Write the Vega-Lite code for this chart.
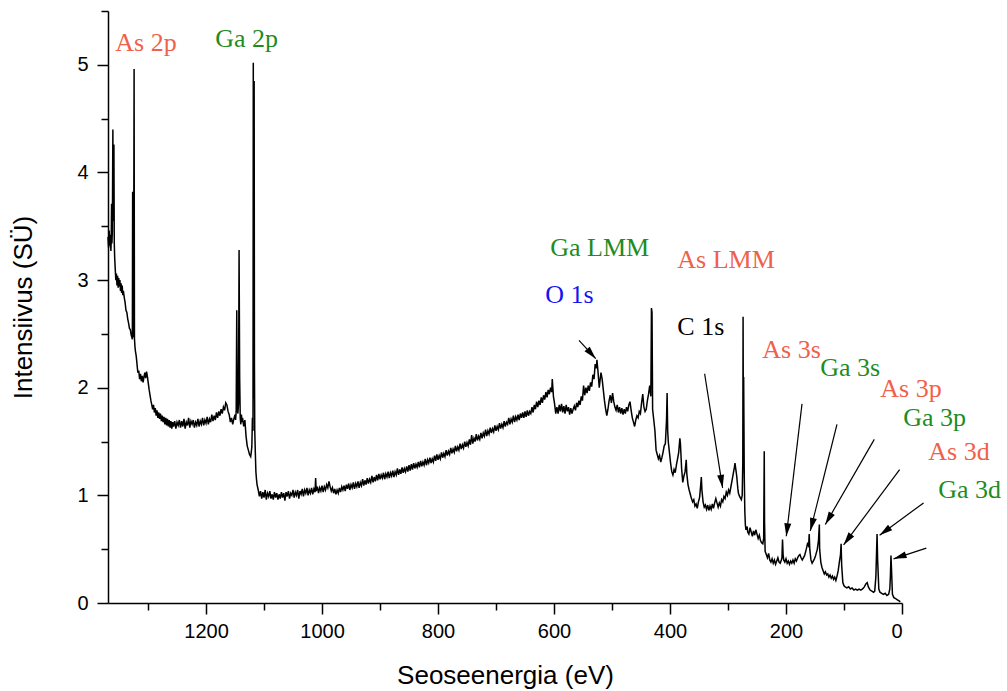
{
  "$schema": "https://vega.github.io/schema/vega-lite/v6.json",
  "width": 794,
  "height": 592,
  "autosize": {"type": "none"},
  "padding": {"left": 108, "top": 11, "right": 105, "bottom": 88},
  "background": "white",
  "config": {
    "view": {"stroke": null},
    "axis": {
      "grid": false,
      "domainColor": "black",
      "domainWidth": 1.5,
      "tickColor": "black",
      "tickWidth": 1.5,
      "labelFont": "Liberation Sans",
      "labelFontSize": 20,
      "labelColor": "black",
      "titleFont": "Liberation Sans",
      "titleFontSize": 26,
      "titleFontWeight": "normal",
      "titleColor": "black"
    }
  },
  "datasets": {
    "spec": [
      {"e":1369,"i":3.40},{"e":1368,"i":3.30},{"e":1367,"i":3.46},{"e":1366,"i":3.32},{"e":1365,"i":3.42},{"e":1364,"i":3.27},{"e":1363.5,"i":3.36},{"e":1362.8,"i":3.71},{"e":1362.3,"i":3.34},{"e":1361.5,"i":3.45},{"e":1360.6,"i":4.40},{"e":1360,"i":3.55},{"e":1359.4,"i":3.60},{"e":1358.8,"i":4.26},{"e":1358.2,"i":3.35},{"e":1357.5,"i":3.21},
      {"e":1356.5,"i":3.10},{"e":1355.5,"i":3.00},{"e":1354.5,"i":3.06},{"e":1353.5,"i":2.95},{"e":1352.5,"i":3.04},{"e":1351.5,"i":2.93},{"e":1350.5,"i":3.02},{"e":1349.5,"i":2.94},{"e":1348.5,"i":3.00},{"e":1347.5,"i":2.90},{"e":1346.5,"i":2.97},{"e":1345.5,"i":2.88},{"e":1344.5,"i":2.95},{"e":1343.5,"i":2.86},{"e":1342.5,"i":2.90},
      {"e":1341,"i":2.84},{"e":1339.5,"i":2.79},{"e":1338,"i":2.72},{"e":1336.5,"i":2.70},{"e":1335,"i":2.64},{"e":1333.5,"i":2.60},{"e":1332,"i":2.55},{"e":1330.5,"i":2.54},{"e":1329,"i":2.49},{"e":1328,"i":2.47},{"e":1327,"i":2.45},{"e":1326.5,"i":3.82},{"e":1326,"i":2.50},{"e":1325,"i":2.47},{"e":1324,"i":4.96},{"e":1323.4,"i":2.46},
      {"e":1322.5,"i":2.38},{"e":1321.5,"i":2.33},{"e":1320.5,"i":2.30},{"e":1319.5,"i":2.25},{"e":1318.5,"i":2.19},{"e":1317.5,"i":2.14},{"e":1316,"i":2.16},{"e":1314.5,"i":2.08},{"e":1313,"i":2.13},{"e":1311.5,"i":2.06},{"e":1310,"i":2.11},{"e":1308.5,"i":2.05},{"e":1307,"i":2.10},{"e":1305.5,"i":2.14},{"e":1304,"i":2.09},{"e":1302.5,"i":2.15},{"e":1301,"i":2.10},{"e":1299.5,"i":2.04},{"e":1298,"i":1.98},
      {"e":1296.5,"i":1.93},{"e":1295,"i":1.88},{"e":1293.5,"i":1.84},{"e":1292,"i":1.80},{"e":1290.5,"i":1.84},{"e":1289,"i":1.77},{"e":1287.5,"i":1.81},{"e":1286,"i":1.74},{"e":1284.5,"i":1.79},{"e":1283,"i":1.72},{"e":1281.5,"i":1.77},{"e":1280,"i":1.71},{"e":1278.5,"i":1.76},{"e":1277,"i":1.69},{"e":1275.5,"i":1.74},{"e":1274,"i":1.68},{"e":1272.5,"i":1.73},{"e":1271,"i":1.66},{"e":1269.5,"i":1.72},{"e":1268,"i":1.65},{"e":1266.5,"i":1.71},{"e":1265,"i":1.64},{"e":1263.5,"i":1.70},{"e":1262,"i":1.63},{"e":1260.5,"i":1.69},{"e":1259,"i":1.62},{"e":1257.5,"i":1.68},{"e":1256,"i":1.64},{"e":1254,"i":1.69},{"e":1252,"i":1.62},{"e":1250,"i":1.68},
      {"e":1248,"i":1.65},{"e":1246,"i":1.70},{"e":1244,"i":1.63},{"e":1242,"i":1.69},{"e":1240,"i":1.64},{"e":1238,"i":1.71},{"e":1236,"i":1.62},{"e":1234,"i":1.68},{"e":1232,"i":1.65},{"e":1230,"i":1.72},{"e":1228,"i":1.63},{"e":1226,"i":1.69},{"e":1224,"i":1.66},{"e":1222,"i":1.70},{"e":1220,"i":1.63},{"e":1218,"i":1.68},{"e":1216,"i":1.65},{"e":1214,"i":1.71},{"e":1212,"i":1.64},{"e":1210,"i":1.69},{"e":1208,"i":1.66},{"e":1206,"i":1.72},{"e":1204,"i":1.65},{"e":1202,"i":1.70},{"e":1200,"i":1.67},{"e":1198,"i":1.73},{"e":1196,"i":1.66},{"e":1194,"i":1.71},{"e":1192,"i":1.68},{"e":1190,"i":1.75},{"e":1188,"i":1.69},{"e":1186,"i":1.74},{"e":1184,"i":1.70},{"e":1182,"i":1.77},{"e":1180,"i":1.72},{"e":1178,"i":1.78},
      {"e":1176,"i":1.74},{"e":1174,"i":1.80},{"e":1172,"i":1.76},{"e":1170,"i":1.82},{"e":1168,"i":1.79},{"e":1166,"i":1.86},{"e":1164,"i":1.84},{"e":1162,"i":1.78},{"e":1160,"i":1.75},{"e":1158,"i":1.68},{"e":1156,"i":1.72},{"e":1154,"i":1.66},{"e":1152,"i":1.71},{"e":1150,"i":1.75},{"e":1149,"i":1.70},{"e":1148,"i":1.78},{"e":1147,"i":2.72},{"e":1146,"i":1.80},{"e":1145,"i":1.76},{"e":1144,"i":1.85},{"e":1143,"i":3.28},{"e":1142,"i":2.10},{"e":1141,"i":1.72},{"e":1140,"i":1.66},{"e":1139,"i":1.75},{"e":1138,"i":1.68},{"e":1137,"i":1.72},{"e":1135,"i":1.64},{"e":1133,"i":1.70},
      {"e":1131,"i":1.55},{"e":1129,"i":1.46},{"e":1127,"i":1.42},{"e":1125,"i":1.38},{"e":1123,"i":1.36},{"e":1122,"i":1.40},{"e":1121,"i":1.45},{"e":1120,"i":1.72},{"e":1119,"i":1.60},{"e":1118.5,"i":5.02},{"e":1118,"i":1.90},{"e":1117,"i":4.85},{"e":1116.5,"i":2.20},{"e":1116,"i":1.61},{"e":1115,"i":1.40},{"e":1114,"i":1.22},{"e":1113,"i":1.15},{"e":1112,"i":1.10},
      {"e":1110,"i":1.05},{"e":1108,"i":0.99},{"e":1106,"i":1.04},{"e":1104,"i":0.97},{"e":1102,"i":1.03},{"e":1100,"i":0.98},{"e":1098,"i":1.05},{"e":1096,"i":0.96},{"e":1094,"i":1.02},{"e":1092,"i":0.99},{"e":1090,"i":1.04},{"e":1088,"i":0.97},{"e":1086,"i":1.01},{"e":1084,"i":0.96},{"e":1082,"i":1.03},{"e":1080,"i":0.98},{"e":1078,"i":1.02},{"e":1076,"i":0.96},{"e":1074,"i":1.01},{"e":1072,"i":0.97},{"e":1070,"i":1.03},{"e":1068,"i":0.98},{"e":1066,"i":1.02},{"e":1064,"i":0.95},{"e":1062,"i":1.03},{"e":1060,"i":0.99},{"e":1058,"i":1.04},{"e":1056,"i":0.97},{"e":1054,"i":1.02},{"e":1052,"i":1.00},{"e":1050,"i":1.05},{"e":1048,"i":0.98},{"e":1046,"i":1.03},{"e":1044,"i":1.00},{"e":1042,"i":1.05},{"e":1040,"i":0.97},{"e":1038,"i":1.04},{"e":1036,"i":1.01},{"e":1034,"i":1.06},{"e":1032,"i":0.99},{"e":1030,"i":1.05},{"e":1028,"i":1.02},{"e":1026,"i":1.07},{"e":1024,"i":1.00},{"e":1022,"i":1.05},{"e":1020,"i":1.02},{"e":1018,"i":1.07},{"e":1016,"i":1.01},{"e":1014,"i":1.06},{"e":1012,"i":1.03},{"e":1011,"i":1.16},{"e":1010,"i":1.04},{"e":1008,"i":1.08},{"e":1006,"i":1.02},{"e":1004,"i":1.07},{"e":1002,"i":1.04},{"e":1000,"i":1.09},
      {"e":998,"i":1.03},{"e":996,"i":1.08},{"e":994,"i":1.05},{"e":992,"i":1.10},{"e":990,"i":1.07},{"e":988,"i":1.13},{"e":986,"i":1.08},{"e":984,"i":1.04},{"e":982,"i":1.07},{"e":980,"i":1.02},{"e":978,"i":1.06},{"e":976,"i":1.01},{"e":974,"i":1.05},{"e":972,"i":1.02},{"e":970,"i":1.07},{"e":968,"i":1.03},{"e":966,"i":1.08},{"e":964,"i":1.05},{"e":962,"i":1.09},{"e":960,"i":1.04},{"e":958,"i":1.10},{"e":956,"i":1.06},{"e":954,"i":1.11},{"e":952,"i":1.05},{"e":950,"i":1.10},{"e":948,"i":1.07},{"e":946,"i":1.12},{"e":944,"i":1.06},{"e":942,"i":1.11},{"e":940,"i":1.08},{"e":938,"i":1.13},{"e":936,"i":1.07},{"e":934,"i":1.12},{"e":932,"i":1.09},{"e":930,"i":1.15},{"e":928,"i":1.09},{"e":926,"i":1.14},{"e":924,"i":1.10},{"e":922,"i":1.16},{"e":920,"i":1.11},{"e":918,"i":1.15},{"e":916,"i":1.12},{"e":914,"i":1.18},{"e":912,"i":1.12},{"e":910,"i":1.17},{"e":908,"i":1.13},{"e":906,"i":1.19},{"e":904,"i":1.14},{"e":902,"i":1.20},{"e":900,"i":1.15},
      {"e":898,"i":1.19},{"e":896,"i":1.16},{"e":894,"i":1.21},{"e":892,"i":1.15},{"e":890,"i":1.20},{"e":888,"i":1.17},{"e":886,"i":1.22},{"e":884,"i":1.16},{"e":882,"i":1.21},{"e":880,"i":1.18},{"e":878,"i":1.23},{"e":876,"i":1.17},{"e":874,"i":1.22},{"e":872,"i":1.19},{"e":870,"i":1.25},{"e":868,"i":1.19},{"e":866,"i":1.24},{"e":864,"i":1.20},{"e":862,"i":1.26},{"e":860,"i":1.21},{"e":858,"i":1.25},{"e":856,"i":1.22},{"e":854,"i":1.27},{"e":852,"i":1.22},{"e":850,"i":1.28},{"e":848,"i":1.23},{"e":846,"i":1.29},{"e":844,"i":1.24},{"e":842,"i":1.30},{"e":840,"i":1.25},{"e":838,"i":1.29},{"e":836,"i":1.26},{"e":834,"i":1.31},{"e":832,"i":1.26},{"e":830,"i":1.32},{"e":828,"i":1.27},{"e":826,"i":1.31},{"e":824,"i":1.28},{"e":822,"i":1.34},{"e":820,"i":1.28},{"e":818,"i":1.33},{"e":816,"i":1.30},{"e":814,"i":1.35},{"e":812,"i":1.30},{"e":810,"i":1.34},{"e":808,"i":1.31},{"e":806,"i":1.37},{"e":804,"i":1.32},{"e":802,"i":1.38},{"e":800,"i":1.33},
      {"e":798,"i":1.37},{"e":796,"i":1.34},{"e":794,"i":1.40},{"e":792,"i":1.35},{"e":790,"i":1.39},{"e":788,"i":1.36},{"e":786,"i":1.42},{"e":784,"i":1.37},{"e":782,"i":1.41},{"e":780,"i":1.38},{"e":778,"i":1.44},{"e":776,"i":1.39},{"e":774,"i":1.43},{"e":772,"i":1.40},{"e":770,"i":1.46},{"e":768,"i":1.41},{"e":766,"i":1.45},{"e":764,"i":1.42},{"e":762,"i":1.48},{"e":760,"i":1.43},{"e":758,"i":1.47},{"e":756,"i":1.44},{"e":754,"i":1.50},{"e":752,"i":1.45},{"e":750,"i":1.49},{"e":748,"i":1.46},{"e":746,"i":1.52},{"e":744,"i":1.47},{"e":742,"i":1.56},{"e":740,"i":1.48},{"e":738,"i":1.53},{"e":736,"i":1.50},{"e":734,"i":1.57},{"e":732,"i":1.51},{"e":730,"i":1.55},{"e":728,"i":1.52},{"e":726,"i":1.58},{"e":724,"i":1.53},{"e":722,"i":1.58},{"e":720,"i":1.55},{"e":718,"i":1.61},{"e":716,"i":1.55},{"e":714,"i":1.60},{"e":712,"i":1.57},{"e":710,"i":1.63},{"e":708,"i":1.58},{"e":706,"i":1.62},{"e":704,"i":1.59},{"e":702,"i":1.65},{"e":700,"i":1.60},
      {"e":698,"i":1.64},{"e":696,"i":1.61},{"e":694,"i":1.67},{"e":692,"i":1.62},{"e":690,"i":1.66},{"e":688,"i":1.63},{"e":686,"i":1.69},{"e":684,"i":1.64},{"e":682,"i":1.68},{"e":680,"i":1.66},{"e":678,"i":1.72},{"e":676,"i":1.66},{"e":674,"i":1.71},{"e":672,"i":1.68},{"e":670,"i":1.74},{"e":668,"i":1.68},{"e":666,"i":1.73},{"e":664,"i":1.70},{"e":662,"i":1.75},{"e":660,"i":1.70},{"e":658,"i":1.76},{"e":656,"i":1.72},{"e":654,"i":1.77},{"e":652,"i":1.72},{"e":650,"i":1.78},{"e":648,"i":1.73},{"e":646,"i":1.79},{"e":644,"i":1.74},{"e":642,"i":1.78},{"e":640,"i":1.76},{"e":638,"i":1.82},{"e":636,"i":1.77},{"e":634,"i":1.84},{"e":632,"i":1.80},{"e":630,"i":1.87},{"e":628,"i":1.82},{"e":626,"i":1.88},{"e":624,"i":1.84},{"e":622,"i":1.91},{"e":620,"i":1.86},{"e":618,"i":1.93},{"e":616,"i":1.89},{"e":614,"i":1.96},{"e":612,"i":1.91},{"e":610,"i":1.98},{"e":608,"i":1.94},{"e":606,"i":2.00},{"e":604,"i":1.96},{"e":603,"i":2.08},{"e":601,"i":1.92},
      {"e":599,"i":1.85},{"e":597,"i":1.76},{"e":595,"i":1.82},{"e":593,"i":1.76},{"e":591,"i":1.84},{"e":589,"i":1.78},{"e":587,"i":1.85},{"e":585,"i":1.77},{"e":583,"i":1.83},{"e":581,"i":1.76},{"e":579,"i":1.84},{"e":577,"i":1.78},{"e":575,"i":1.82},{"e":573,"i":1.75},{"e":571,"i":1.81},{"e":569,"i":1.76},{"e":567,"i":1.80},{"e":565,"i":1.83},{"e":563,"i":1.79},{"e":561,"i":1.86},{"e":559,"i":1.82},{"e":557,"i":1.88},{"e":555,"i":1.84},{"e":553,"i":1.92},{"e":551,"i":1.88},{"e":549,"i":2.02},{"e":547,"i":1.93},{"e":545,"i":2.00},{"e":543,"i":1.95},{"e":541,"i":2.02},{"e":539,"i":1.97},{"e":537,"i":2.05},{"e":535,"i":2.01},{"e":533,"i":2.12},{"e":531,"i":2.08},{"e":529,"i":2.22},{"e":527,"i":2.18},{"e":526,"i":2.26},{"e":524,"i":2.14},{"e":522,"i":2.00},{"e":521,"i":2.05},{"e":519,"i":2.14},{"e":517,"i":2.08},{"e":515,"i":1.98},{"e":513,"i":1.88},{"e":511,"i":1.80},{"e":509,"i":1.74},{"e":507,"i":1.80},{"e":505,"i":1.88},{"e":503,"i":1.93},{"e":501,"i":1.86},
      {"e":499,"i":1.95},{"e":497,"i":1.87},{"e":495,"i":1.82},{"e":493,"i":1.79},{"e":491,"i":1.84},{"e":489,"i":1.77},{"e":487,"i":1.82},{"e":485,"i":1.76},{"e":483,"i":1.81},{"e":481,"i":1.75},{"e":479,"i":1.80},{"e":477,"i":1.76},{"e":475,"i":1.82},{"e":473,"i":1.78},{"e":471,"i":1.84},{"e":469,"i":1.87},{"e":467,"i":1.79},{"e":465,"i":1.72},{"e":463,"i":1.68},{"e":461,"i":1.64},{"e":459,"i":1.70},{"e":457,"i":1.74},{"e":455,"i":1.72},{"e":453,"i":1.78},{"e":451,"i":1.76},{"e":449,"i":1.86},{"e":447,"i":1.94},{"e":445,"i":1.82},{"e":443,"i":1.78},{"e":441,"i":1.80},{"e":439,"i":1.88},{"e":437,"i":1.94},{"e":435,"i":2.02},{"e":433,"i":1.92},{"e":432,"i":2.74},{"e":431,"i":2.70},{"e":430,"i":1.80},{"e":428,"i":1.70},{"e":426,"i":1.60},{"e":424,"i":1.42},{"e":422,"i":1.38},{"e":420,"i":1.34},{"e":418,"i":1.37},{"e":416,"i":1.31},{"e":414,"i":1.35},{"e":412,"i":1.40},{"e":410,"i":1.46},{"e":408,"i":1.48},{"e":406,"i":1.70},{"e":405,"i":1.95},{"e":404,"i":1.60},{"e":403,"i":1.50},{"e":401,"i":1.40},
      {"e":399,"i":1.30},{"e":397,"i":1.22},{"e":395,"i":1.19},{"e":393,"i":1.24},{"e":391,"i":1.21},{"e":389,"i":1.28},{"e":387,"i":1.34},{"e":385,"i":1.40},{"e":383,"i":1.53},{"e":382,"i":1.48},{"e":380,"i":1.25},{"e":378,"i":1.12},{"e":376,"i":1.18},{"e":374,"i":1.22},{"e":372,"i":1.33},{"e":371,"i":1.20},{"e":369,"i":1.10},{"e":367,"i":1.05},{"e":365,"i":1.01},{"e":363,"i":0.97},{"e":361,"i":0.94},{"e":359,"i":0.96},{"e":357,"i":0.90},{"e":355,"i":0.92},{"e":353,"i":0.88},{"e":351,"i":0.94},{"e":349,"i":0.98},{"e":347,"i":1.10},{"e":346,"i":1.17},{"e":345,"i":1.05},{"e":343,"i":0.94},{"e":341,"i":0.89},{"e":339,"i":0.91},{"e":337,"i":0.87},{"e":335,"i":0.91},{"e":333,"i":0.86},{"e":331,"i":0.90},{"e":329,"i":0.87},{"e":327,"i":0.92},{"e":325,"i":0.88},{"e":323,"i":0.93},{"e":321,"i":0.97},{"e":319,"i":0.93},{"e":317,"i":0.89},{"e":315,"i":0.93},{"e":313,"i":0.90},{"e":311,"i":0.96},{"e":309,"i":0.94},{"e":307,"i":0.99},{"e":305,"i":0.97},{"e":303,"i":1.03},{"e":301,"i":1.00},
      {"e":299,"i":1.05},{"e":297,"i":1.02},{"e":295,"i":1.08},{"e":293,"i":1.14},{"e":291,"i":1.20},{"e":289,"i":1.26},{"e":288,"i":1.30},{"e":286,"i":1.22},{"e":285,"i":1.18},{"e":283,"i":1.06},{"e":282,"i":1.02},{"e":280,"i":0.99},{"e":278,"i":0.97},{"e":277,"i":0.96},{"e":275.5,"i":1.00},{"e":274.5,"i":1.30},{"e":274,"i":2.66},{"e":273.5,"i":1.60},{"e":273,"i":2.10},{"e":272,"i":1.20},{"e":271,"i":0.85},{"e":270,"i":0.72},{"e":269,"i":0.68},
      {"e":267,"i":0.71},{"e":266,"i":0.66},{"e":264,"i":0.64},{"e":262,"i":0.70},{"e":260,"i":0.66},{"e":258,"i":0.62},{"e":256,"i":0.67},{"e":254,"i":0.63},{"e":252,"i":0.68},{"e":250,"i":0.64},{"e":248,"i":0.60},{"e":246,"i":0.63},{"e":244,"i":0.58},{"e":242,"i":0.56},{"e":240,"i":0.55},{"e":238.5,"i":0.60},{"e":237.5,"i":1.41},{"e":237,"i":0.75},{"e":236,"i":0.48},{"e":234,"i":0.45},{"e":232,"i":0.42},{"e":230,"i":0.46},{"e":228,"i":0.40},{"e":226,"i":0.38},{"e":224,"i":0.41},{"e":222,"i":0.37},{"e":220,"i":0.40},{"e":218,"i":0.36},{"e":216,"i":0.39},{"e":214,"i":0.42},{"e":212,"i":0.38},{"e":210,"i":0.37},{"e":208,"i":0.40},{"e":207,"i":0.42},{"e":206,"i":0.59},{"e":205,"i":0.45},{"e":204,"i":0.40},
      {"e":202,"i":0.38},{"e":200,"i":0.41},{"e":198,"i":0.37},{"e":196,"i":0.39},{"e":194,"i":0.36},{"e":192,"i":0.39},{"e":190,"i":0.37},{"e":188,"i":0.40},{"e":186,"i":0.37},{"e":184,"i":0.41},{"e":182,"i":0.39},{"e":180,"i":0.42},{"e":178,"i":0.44},{"e":176,"i":0.45},{"e":174,"i":0.42},{"e":172,"i":0.40},{"e":170,"i":0.42},{"e":168,"i":0.44},{"e":165,"i":0.50},{"e":163,"i":0.55},{"e":161,"i":0.53},{"e":160,"i":0.64},{"e":159,"i":0.50},{"e":157,"i":0.40},{"e":155,"i":0.37},{"e":153,"i":0.39},{"e":151,"i":0.41},{"e":149,"i":0.44},{"e":147,"i":0.48},{"e":146,"i":0.50},{"e":144,"i":0.58},{"e":142.5,"i":0.73},{"e":142,"i":0.50},{"e":140,"i":0.38},{"e":138,"i":0.33},
      {"e":136,"i":0.30},{"e":134,"i":0.27},{"e":132,"i":0.29},{"e":130,"i":0.26},{"e":128,"i":0.27},{"e":126,"i":0.24},{"e":124,"i":0.26},{"e":122,"i":0.23},{"e":120,"i":0.25},{"e":118,"i":0.22},{"e":116,"i":0.24},{"e":114,"i":0.21},{"e":112,"i":0.25},{"e":110,"i":0.30},{"e":108,"i":0.38},{"e":106,"i":0.45},{"e":105,"i":0.55},{"e":104,"i":0.35},{"e":102,"i":0.19},{"e":100,"i":0.16},{"e":98,"i":0.15},{"e":95,"i":0.14},{"e":92,"i":0.15},{"e":89,"i":0.13},{"e":86,"i":0.14},{"e":83,"i":0.12},{"e":80,"i":0.13},{"e":77,"i":0.12},{"e":74,"i":0.13},{"e":71,"i":0.12},{"e":68,"i":0.13},{"e":65,"i":0.15},{"e":62,"i":0.18},{"e":60,"i":0.19},{"e":58,"i":0.15},{"e":55,"i":0.12},{"e":52,"i":0.11},{"e":49,"i":0.10},{"e":47,"i":0.11},
      {"e":45,"i":0.25},{"e":43,"i":0.64},{"e":42,"i":0.40},{"e":40,"i":0.13},{"e":38,"i":0.10},{"e":35,"i":0.09},{"e":32,"i":0.08},{"e":29,"i":0.09},{"e":26,"i":0.07},{"e":23,"i":0.08},{"e":21,"i":0.13},{"e":20,"i":0.25},{"e":19,"i":0.44},{"e":18,"i":0.30},{"e":16.5,"i":0.08},{"e":14,"i":0.05},{"e":11,"i":0.04},{"e":8,"i":0.03},{"e":5,"i":0.02},{"e":3,"i":0.01}
    ],
    "labels": [
      {"lbl":"As 2p","el":"As","e":1356.4,"i":5.13},
      {"lbl":"Ga 2p","el":"Ga","e":1184,"i":5.17},
      {"lbl":"Ga LMM","el":"Ga","e":606.4,"i":3.22},
      {"lbl":"As LMM","el":"As","e":387.4,"i":3.11},
      {"lbl":"O 1s","el":"O","e":615,"i":2.79},
      {"lbl":"C 1s","el":"C","e":387.4,"i":2.49},
      {"lbl":"As 3s","el":"As","e":240.9,"i":2.28},
      {"lbl":"Ga 3s","el":"Ga","e":141,"i":2.11},
      {"lbl":"As 3p","el":"As","e":37.4,"i":1.91},
      {"lbl":"Ga 3p","el":"Ga","e":-2.2,"i":1.64},
      {"lbl":"As 3d","el":"As","e":-45.3,"i":1.33},
      {"lbl":"Ga 3d","el":"Ga","e":-62.6,"i":0.98}
    ],
    "arrows": [
      {"e":556.9,"i":2.44,"e2":528,"i2":2.27,"ang":-41.8},
      {"e":340.3,"i":2.13,"e2":309.3,"i2":1.07,"ang":-9.0},
      {"e":172.4,"i":1.85,"e2":199.5,"i2":0.62,"ang":6.7},
      {"e":112.1,"i":1.66,"e2":158.1,"i2":0.67,"ang":14.0},
      {"e":47.8,"i":1.52,"e2":132.2,"i2":0.73,"ang":29.8},
      {"e":4.1,"i":1.24,"e2":100.7,"i2":0.54,"ang":36.7},
      {"e":-37.2,"i":0.93,"e2":38.6,"i2":0.63,"ang":53.7},
      {"e":-41.9,"i":0.51,"e2":14.5,"i2":0.41,"ang":71.4}
    ]
  },
  "resolve": {"axis": {"x": "independent", "y": "independent"}},
  "layer": [
    {
      "data": {"name": "spec"},
      "mark": {"type": "line", "color": "black", "strokeWidth": 1.5},
      "encoding": {
        "x": {"field": "e", "type": "quantitative", "sort": null,
              "scale": {"domain": [0, 1369], "reverse": true, "nice": false, "zero": false},
              "axis": {"values": [0, 200, 400, 600, 800, 1000, 1200], "format": "d", "tickSize": 11, "labelPadding": 7, "title": "Seoseenergia (eV)", "titlePadding": 21}},
        "y": {"field": "i", "type": "quantitative",
              "scale": {"domain": [0, 5.5], "nice": false, "zero": true},
              "axis": {"values": [0, 1, 2, 3, 4, 5], "tickSize": 11, "labelPadding": 9, "title": "Intensiivus (SÜ)", "titlePadding": 40}}
      }
    },
    {
      "data": {"name": "arrows"},
      "mark": {"type": "rule", "color": "black", "strokeWidth": 1.2},
      "encoding": {
        "x": {"field": "e", "type": "quantitative", "axis": null},
        "y": {"field": "i", "type": "quantitative", "axis": null},
        "x2": {"field": "e2"},
        "y2": {"field": "i2"}
      }
    },
    {
      "data": {"name": "arrows"},
      "mark": {"type": "point", "shape": "M0,0L-0.27,-1L0.27,-1Z", "filled": true, "color": "black", "opacity": 1, "size": 676, "strokeWidth": 0},
      "encoding": {
        "x": {"field": "e2", "type": "quantitative", "axis": null},
        "y": {"field": "i2", "type": "quantitative", "axis": null},
        "angle": {"field": "ang", "type": "quantitative", "scale": null}
      }
    },
    {
      "data": {"name": "labels"},
      "mark": {"type": "text", "align": "left", "baseline": "alphabetic", "font": "Liberation Serif", "fontSize": 26},
      "encoding": {
        "x": {"field": "e", "type": "quantitative",
              "axis": {"orient": "bottom", "values": [100, 300, 500, 700, 900, 1100, 1300], "tickSize": 7, "labels": false, "domain": false, "title": null}},
        "y": {"field": "i", "type": "quantitative",
              "axis": {"orient": "left", "values": [0.5, 1.5, 2.5, 3.5, 4.5, 5.5], "tickSize": 7, "labels": false, "domain": false, "title": null}},
        "text": {"field": "lbl"},
        "color": {"field": "el", "type": "nominal", "legend": null,
                  "scale": {"domain": ["As", "Ga", "O", "C"], "range": ["#F0604A", "#1E8C1E", "#1414F0", "#000000"]}}
      }
    }
  ]
}
